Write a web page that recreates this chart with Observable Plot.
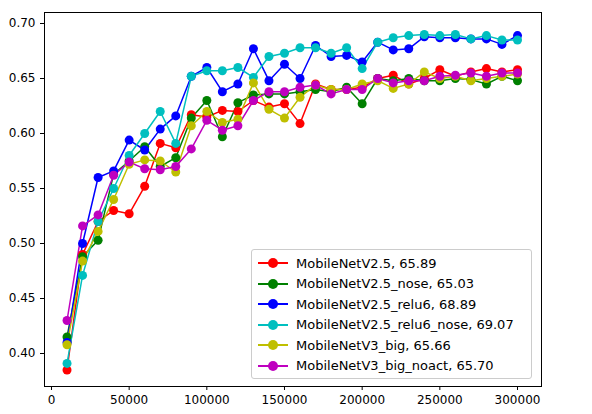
<!DOCTYPE html>
<html><head><meta charset="utf-8">
<script src="https://cdn.jsdelivr.net/npm/d3@7"></script>
<script src="https://cdn.jsdelivr.net/npm/@observablehq/plot@0.6"></script>
<style>
body{margin:0;font-family:"DejaVu Sans",sans-serif;background:#fff}
#wrap{position:relative;width:592px;height:414px}
#legend{position:absolute;left:251px;top:249px;width:281px;height:130px;border:1px solid #ccc;border-radius:3px;background:rgba(255,255,255,0.85);font-size:13px;box-sizing:border-box;padding:3px 0 0 6px}
.row{display:flex;align-items:center;height:20.5px}
.sw{position:relative;width:30px;height:10px;margin-right:8px}
.sw i{position:absolute;left:0;right:0;top:4px;height:2px}
.sw b{position:absolute;left:10px;top:0;width:10px;height:10px;border-radius:50%}
</style></head><body>
<div id="wrap"><div id="chart"></div><div id="legend"></div></div>
<script>
const steps = d3.range(10000, 300001, 10000)
const names = ["MobileNetV2.5, 65.89","MobileNetV2.5_nose, 65.03","MobileNetV2.5_relu6, 68.89","MobileNetV2.5_relu6_nose, 69.07","MobileNetV3_big, 65.66","MobileNetV3_big_noact, 65.70"]
const colors = ["#ff0000","#008000","#0000ff","#00bfbf","#bfbf00","#bf00bf"]
const red = [0.385,0.49,0.52,0.53,0.527,0.552,0.591,0.587,0.617,0.615,0.621,0.62,0.63,0.624,0.627,0.609,0.645,0.64,0.64,0.642,0.65,0.653,0.645,0.65,0.658,0.652,0.656,0.659,0.656,0.658]
const green = [0.415,0.488,0.503,0.563,0.575,0.588,0.57,0.578,0.614,0.63,0.597,0.628,0.635,0.636,0.636,0.638,0.64,0.638,0.642,0.627,0.65,0.648,0.65,0.648,0.648,0.65,0.649,0.645,0.652,0.648]
const blue = [0.41,0.5,0.56,0.566,0.594,0.585,0.604,0.616,0.652,0.66,0.638,0.645,0.677,0.648,0.663,0.65,0.68,0.67,0.671,0.665,0.683,0.676,0.677,0.688,0.687,0.687,0.686,0.686,0.681,0.689]
const cyan = [0.391,0.471,0.52,0.55,0.58,0.6,0.62,0.591,0.652,0.657,0.657,0.66,0.651,0.67,0.673,0.678,0.678,0.673,0.678,0.659,0.683,0.687,0.689,0.69,0.689,0.69,0.686,0.689,0.685,0.685]
const yellow = [0.408,0.484,0.511,0.54,0.572,0.576,0.575,0.565,0.607,0.62,0.61,0.613,0.646,0.622,0.614,0.633,0.644,0.64,0.64,0.645,0.648,0.641,0.645,0.656,0.65,0.652,0.648,0.65,0.652,0.654]
const magenta = [0.43,0.516,0.526,0.562,0.574,0.568,0.567,0.57,0.586,0.612,0.603,0.607,0.63,0.638,0.638,0.642,0.644,0.636,0.64,0.64,0.65,0.646,0.648,0.648,0.652,0.653,0.655,0.652,0.655,0.655]
const series = [red, green, blue, cyan, yellow, magenta]

const rows = series.flatMap((s, i) => s.map((v, j) => ({x: steps[j], y: v, name: names[i]})))

const chart = Plot.plot({
  width: 592, height: 414,
  marginLeft: 44, marginRight: 51, marginTop: 12, marginBottom: 28,
  style: {fontFamily: "DejaVu Sans", fontSize: "12px", color: "#000"},
  x: {domain: [-4500, 315450], ticks: d3.range(0, 300001, 50000), tickFormat: d => String(d), label: null, tickSize: 4},
  y: {domain: [0.37, 0.71], ticks: d3.range(0.40, 0.701, 0.05), tickFormat: d3.format(".2f"), label: null, tickSize: 4},
  color: {domain: names, range: colors},
  marks: [
    Plot.frame({stroke: "#000"}),
    Plot.line(rows, {x: "x", y: "y", z: "name", stroke: "name", strokeWidth: 1.5}),
    Plot.dot(rows, {x: "x", y: "y", fill: "name", r: 4.5})
  ]
})
document.getElementById("chart").append(chart)

const lg = d3.select("#legend")
names.forEach((n, i) => {
  const r = lg.append("div").attr("class", "row")
  const sw = r.append("div").attr("class", "sw")
  sw.append("i").style("background", colors[i])
  sw.append("b").style("background", colors[i])
  r.append("span").text(n)
})
</script></body></html>
